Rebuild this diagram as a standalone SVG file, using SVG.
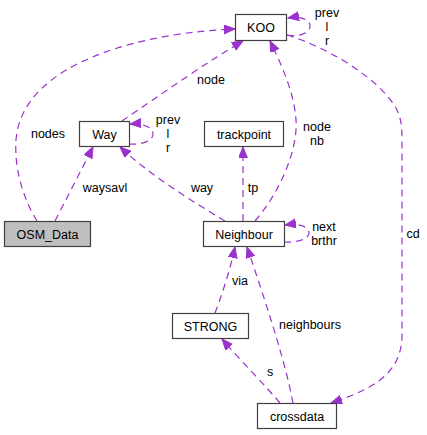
<svg xmlns="http://www.w3.org/2000/svg" width="427" height="435" viewBox="0 0 427 435">
<style>
.node rect{fill:#ffffff;stroke:#404040;stroke-width:1.2}
.node rect.grey{fill:#bfbfbf}
text{font-family:"Liberation Sans",Arial,sans-serif;font-size:12.5px;fill:#000;text-anchor:middle}
.edge path{fill:none;stroke:#9a32cd;stroke-width:1.2;stroke-dasharray:7,5}
</style>
<defs>
<marker id="ah" markerUnits="userSpaceOnUse" markerWidth="12" markerHeight="10" refX="11" refY="4.5" orient="auto">
<path d="M0,0 L11,4.5 L0,9 z" fill="#9a32cd" stroke="#9a32cd" stroke-width="1"/>
</marker>
</defs>
<rect width="427" height="435" fill="#ffffff"/>
<g id="edges" class="edge">
<path d="M37,221 C 24,200 14,170 16,140 C 22,60 150,32 235,29" marker-end="url(#ah)"/>
<path d="M55,221 L93,147" marker-end="url(#ah)"/>
<path d="M122,121 C 160,95 210,60 243,41" marker-end="url(#ah)"/>
<path d="M129,144 C 142,145 153,141 153,134 C 153,127 142,123 130,124" marker-end="url(#ah)"/>
<path d="M225,221 C 190,200 150,175 120,147" marker-end="url(#ah)"/>
<path d="M243,221 L243,147" marker-end="url(#ah)"/>
<path d="M255,221 C 280,192 298,150 296,120 C 294,92 282,66 270,41" marker-end="url(#ah)"/>
<path d="M284,242 C 297,243 309,239 309,233 C 309,226 298,223 285,225" marker-end="url(#ah)"/>
<path d="M287,35 C 300,37 310,33 310,26 C 310,19 300,16 288,18" marker-end="url(#ah)"/>
<path d="M287,35 C 330,48 380,80 396,108 C 401,118 402,125 402,140 L402,335 C 402,375 370,390 331,403" marker-end="url(#ah)"/>
<path d="M215,313 C 222,295 230,270 235,247" marker-end="url(#ah)"/>
<path d="M293,403 C 285,360 265,300 247,247" marker-end="url(#ah)"/>
<path d="M280,403 C 265,385 240,360 222,339" marker-end="url(#ah)"/>
</g>
<g id="edge-labels">
<text x="48" y="137.5">nodes</text>
<text x="211" y="83.5">node</text>
<text x="168" y="123.5">prev</text>
<text x="168" y="137.5">l</text>
<text x="168" y="152">r</text>
<text x="327" y="16.5">prev</text>
<text x="327" y="30.5">l</text>
<text x="327" y="45">r</text>
<text x="105" y="191.5">waysavl</text>
<text x="202" y="191.5">way</text>
<text x="253" y="191.5">tp</text>
<text x="317" y="130.5">node</text>
<text x="317" y="144.5">nb</text>
<text x="324" y="230.5">next</text>
<text x="324" y="245">brthr</text>
<text x="413" y="237.5">cd</text>
<text x="240" y="284.5">via</text>
<text x="310" y="329">neighbours</text>
<text x="270" y="375.5">s</text>
</g>
<g id="KOO" class="node"><rect x="235.5" y="14.5" width="51" height="26"/><text x="261" y="32">KOO</text></g>
<g id="Way" class="node"><rect x="79.5" y="121.5" width="50" height="25"/><text x="104.5" y="138.5">Way</text></g>
<g id="OSM_Data" class="node"><rect class="grey" x="4.5" y="221.5" width="86" height="25"/><text x="47.5" y="238.5">OSM_Data</text></g>
<g id="trackpoint" class="node"><rect x="204.5" y="121.5" width="79" height="25"/><text x="244" y="138.5">trackpoint</text></g>
<g id="Neighbour" class="node"><rect x="203.5" y="221.5" width="81" height="25"/><text x="244" y="238.5">Neighbour</text></g>
<g id="STRONG" class="node"><rect x="172.5" y="313.5" width="76" height="25"/><text x="210.5" y="330.5">STRONG</text></g>
<g id="crossdata" class="node"><rect x="257.5" y="403.5" width="79" height="25"/><text x="297" y="420.5">crossdata</text></g>
</svg>
